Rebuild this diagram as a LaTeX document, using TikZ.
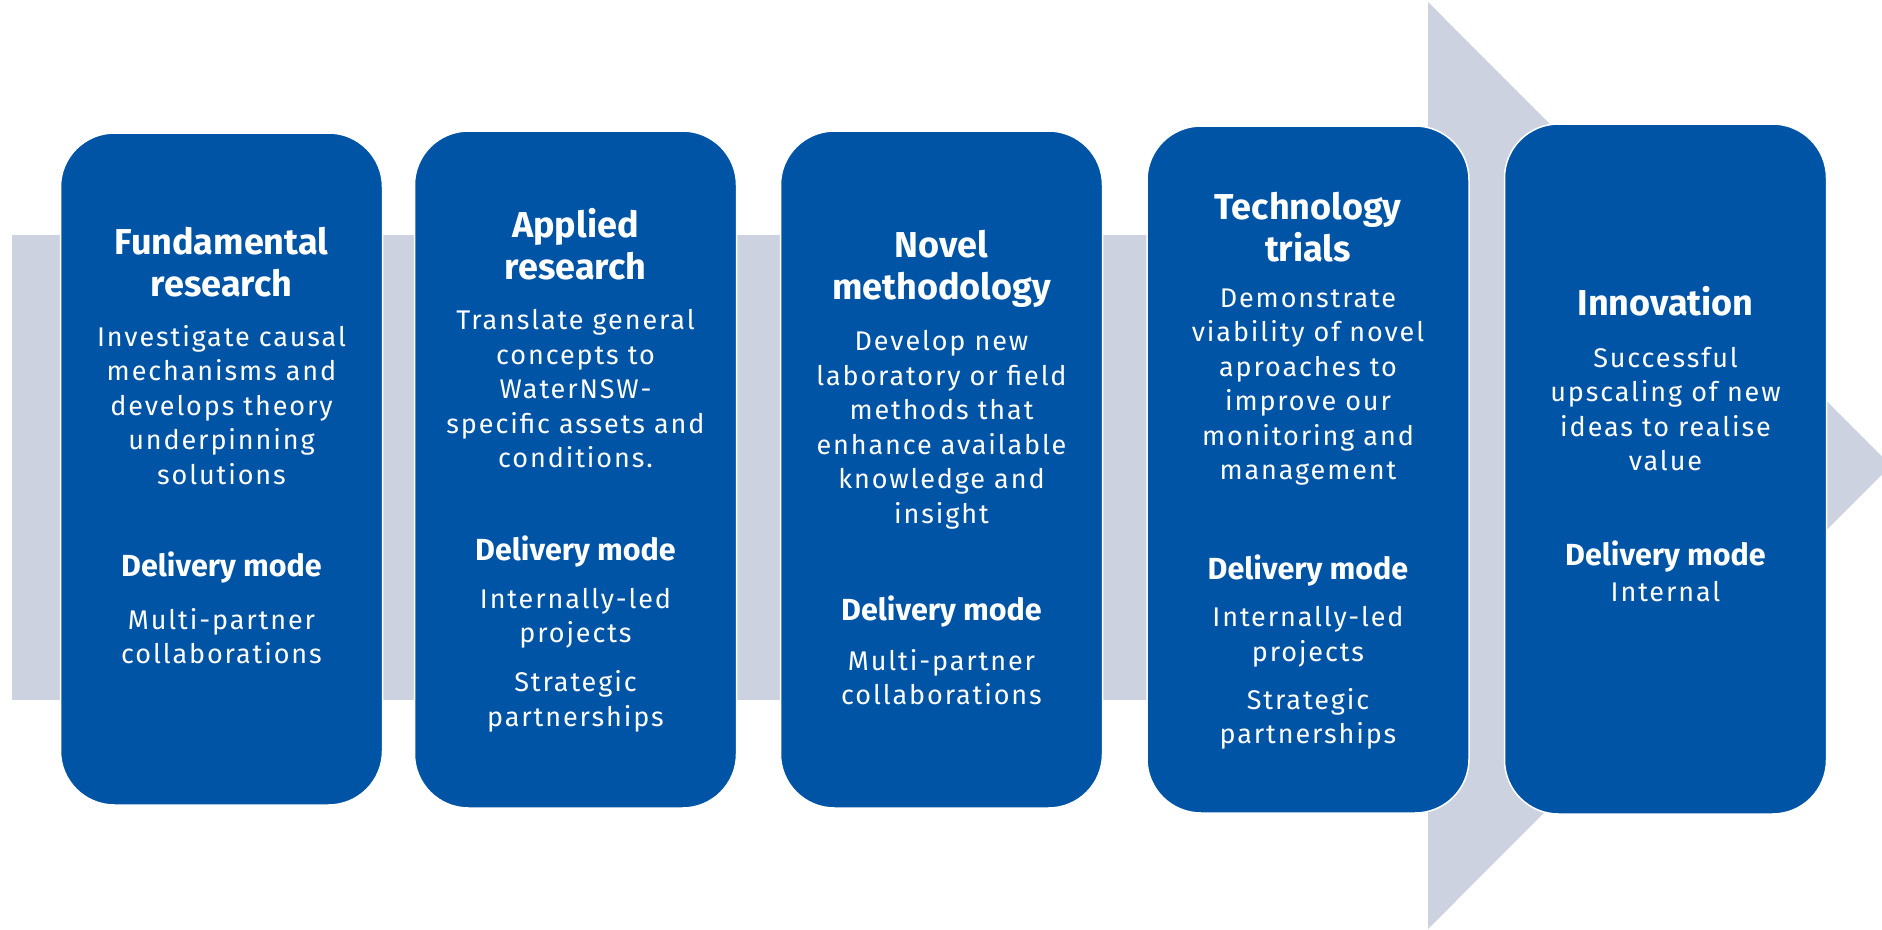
\documentclass[tikz,border=0pt]{standalone}
\usepackage{fontspec}
\setmainfont{Fira Sans}
\newfontfamily\spacedfont[LetterSpace=7]{Fira Sans}
\usepackage{tikz}
\usetikzlibrary{positioning,calc}
\definecolor{wnblue}{RGB}{0,84,166}
\definecolor{wngrey}{RGB}{205,210,225}

\begin{document}
\begin{tikzpicture}[x=1pt,y=-1pt,
  stage/.style={rectangle, rounded corners=54pt, fill=wnblue, draw=white, line width=1.5pt, minimum width=322pt},
  head/.style={text=white, align=center, inner sep=0pt, font=\bfseries\fontsize{36}{42}\selectfont},
  desc/.style={text=white, align=center, inner sep=0pt, font=\spacedfont\fontsize{27}{34.5}\selectfont},
  mode/.style={text=white, align=center, inner sep=0pt, font=\bfseries\fontsize{30.5}{34}\selectfont}]
\clip (0,0) rectangle (1882,929);

% background arrow
\fill[wngrey] (12,235) rectangle (1430,700);
\fill[wngrey] (1428,2) -- (1891,465.5) -- (1428,929) -- cycle;

\node[stage, minimum height=672pt, name=fund] at (221.5,469) {};
\node[stage, minimum height=677pt, name=appl] at (575.5,469.5) {};
\node[stage, minimum height=677pt, name=novel] at (941.5,469.5) {};
\node[stage, minimum height=687pt, name=tech] at (1308,469.5) {};
\node[stage, minimum height=690pt, name=innov] at (1665.5,469) {};

\node[head, name=fundT] at (fund |- 0,262) {Fundamental\\research};
\node[desc, name=fundD] at (fund |- 0,405) {Investigate causal\\mechanisms and\\develops theory\\underpinning\\solutions};
\node[mode, name=fundM] at (fund |- 0,568) {Delivery mode};
\node[desc, name=fundW] at (fund |- 0,636) {Multi-partner\\collaborations};

\node[head, name=applT] at (appl |- 0,244.5) {Applied\\research};
\node[desc, name=applD] at (appl |- 0,388.6) {Translate general\\concepts to\\WaterNSW-\\specific assets and\\conditions.};
\node[mode, name=applM] at (appl |- 0,552) {Delivery mode};
\node[desc, name=applW] at (appl |- 0,618) {Internally-led\\projects};
\node[desc, name=applS] at (appl |- 0,701.5) {Strategic\\partnerships};

\node[head, name=novelT] at (novel |- 0,269) {Novel\\methodology};
\node[desc, name=novelD] at (novel |- 0,429.5) {Develop new\\laboratory or field\\methods that\\enhance available\\knowledge and\\insight};
\node[mode, name=novelM] at (novel |- 0,612) {Delivery mode};
\node[desc, name=novelW] at (novel |- 0,677) {Multi-partner\\collaborations};

\node[head, name=techT] at (tech |- 0,227) {Technology\\trials};
\node[desc, name=techD] at (tech |- 0,387) {Demonstrate\\viability of novel\\aproaches to\\improve our\\monitoring and\\management};
\node[mode, name=techM] at (tech |- 0,571) {Delivery mode};
\node[desc, name=techW] at (tech |- 0,636.5) {Internally-led\\projects};
\node[desc, name=techS] at (tech |- 0,719) {Strategic\\partnerships};

\node[head, name=innovT] at (innov |- 0,301) {Innovation};
\node[desc, name=innovD] at (innov |- 0,409) {Successful\\upscaling of new\\ideas to realise\\value};
\node[mode, name=innovM] at (innov |- 0,557) {Delivery mode};
\node[desc, name=innovW] at (innov |- 0,592) {Internal};
\end{tikzpicture}
\end{document}
